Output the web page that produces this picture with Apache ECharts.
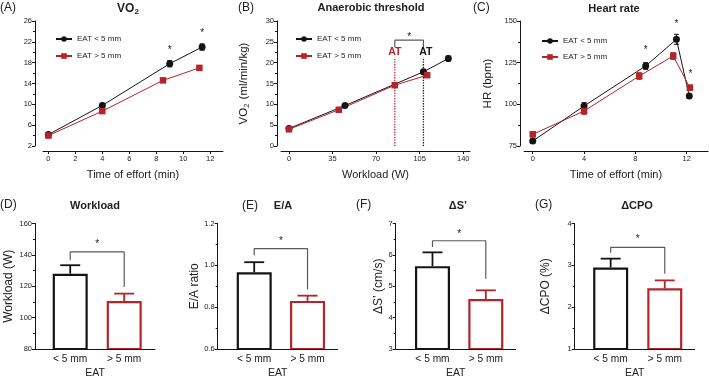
<!DOCTYPE html>
<html><head><meta charset="utf-8">
<script src="https://cdn.jsdelivr.net/npm/echarts@6/dist/echarts.min.js"></script>
<style>html,body{margin:0;padding:0;background:#fff}#c{width:709px;height:378px}</style>
</head><body><div id="c"></div>
<script>
// ================= DATA =================
var seriesNames = ['EAT < 5 mm', 'EAT > 5 mm'];
var barCats = ['< 5 mm', '> 5 mm'];

// (A) VO2 vs time of effort
var aTimeLow = [0, 4, 9, 11.4];
var aVo2Low = [4.2, 9.8, 17.8, 21.0];
var aErrLow = [0.3, 0.4, 0.6, 0.6];
var aTimeHigh = [0, 4, 8.5, 11.2];
var aVo2High = [4.0, 8.7, 14.6, 17.0];
var aErrHigh = [0.3, 0.3, 0.4, 0.4];
var aStars = [[9, 20.7], [11.4, 24.0]];
var aXTicks = [0, 2, 4, 6, 8, 10, 12];

// (B) Anaerobic threshold: VO2 vs workload
var bWorkLow = [0, 45, 108, 128];
var bVo2Low = [4.2, 9.7, 17.8, 21.0];
var bErrLow = [0.3, 0.4, 0.6, 0.6];
var bWorkHigh = [0, 40, 85, 111];
var bVo2High = [4.0, 8.7, 14.6, 17.0];
var bErrHigh = [0.3, 0.3, 0.4, 0.4];
var bATHigh = 85, bATLow = 108, bATTop = 21.3, bATLabelY = 22.6;
var bBracket = [23.7, 25.4];
var bStar = [96.5, 26.7];
var bXTicks = [0, 35, 70, 105, 140];

// (C) Heart rate vs time of effort
var cTimeLow = [0, 4, 8.8, 11.2, 12.2];
var cHrLow = [78, 99, 123, 139, 105];
var cErrLow = [1, 2, 2, 3, 1];
var cTimeHigh = [0, 4, 8.3, 10.95, 12.25];
var cHrHigh = [82, 96, 117, 129, 110];
var cErrHigh = [1.5, 2, 2, 2, 1.5];
var cStars = [[8.8, 133.6], [11.2, 149.4], [12.3, 119]];
var cXTicks = [0, 4, 8, 12];

// (D)-(G) bar panels: mean, SEM, bracket [left end, top, right end], star height
var dMean = [128, 110.6], dSem = [5.4, 4.7], dBracket = [136.6, 141.9, 119.6], dStarY = 148.3;
var eMean = [0.967, 0.83], eSem = [0.048, 0.025], eBracket = [1.048, 1.08, 0.884], eStarY = 1.123;
var fMean = [5.64, 4.59], fSem = [0.44, 0.28], fBracket = [6.25, 6.45, 5.24], fStarY = 6.73;
var gMean = [2.95, 2.45], gSem = [0.21, 0.19], gBracket = [3.3, 3.43, 2.8], gStarY = 3.66;

// ================= STYLE =================
var FONT = 'Liberation Sans, Arial, Helvetica, sans-serif';
var BLACK = '#141414', RED = '#b3242b', GREY = '#5a5a5a', TXT = '#222';
var barColors = [BLACK, RED];

function zip(xs, ys) { return xs.map(function (x, i) { return [x, ys[i]]; }); }
function zip3(xs, ys, es) { return xs.map(function (x, i) { return [x, ys[i], es[i]]; }); }

function lineErr(color) {
  return function (params, api) {
    var x = api.value(0), m = api.value(1), e = api.value(2);
    var t = api.coord([x, m + e]), b = api.coord([x, m - e]), w = 2.5;
    var st = { stroke: color, lineWidth: 1 };
    return { type: 'group', children: [
      { type: 'line', shape: { x1: t[0], y1: t[1], x2: b[0], y2: b[1] }, style: st },
      { type: 'line', shape: { x1: t[0] - w, y1: t[1], x2: t[0] + w, y2: t[1] }, style: st },
      { type: 'line', shape: { x1: b[0] - w, y1: b[1], x2: b[0] + w, y2: b[1] }, style: st }
    ] };
  };
}
function barErr(params, api) {
  var x = api.value(0), m = api.value(1), e = api.value(2);
  var p0 = api.coord([x, m]), p1 = api.coord([x, m + e]), w = 10;
  var st = { stroke: barColors[params.dataIndex], lineWidth: 1.8 };
  return { type: 'group', children: [
    { type: 'line', shape: { x1: p0[0], y1: p0[1], x2: p1[0], y2: p1[1] }, style: st },
    { type: 'line', shape: { x1: p1[0] - w, y1: p1[1], x2: p1[0] + w, y2: p1[1] }, style: st }
  ] };
}
function textMark(txt, color, font, dy) {
  return function (params, api) {
    var p = api.coord([api.value(0), api.value(1)]);
    return { type: 'text', x: p[0], y: p[1] + (dy || 0),
      style: { text: txt, textAlign: 'center', textVerticalAlign: 'middle', verticalAlign: 'middle', font: font, fill: color } };
  };
}
var starFont = 'normal 10px ' + FONT;

function lineSeries(idx, name, data, color, symbol) {
  return { type: 'line', name: name, xAxisIndex: idx, yAxisIndex: idx, data: data,
    symbol: symbol, symbolSize: symbol === 'circle' ? 7 : 6.5, lineStyle: { color: color, width: 1 },
    itemStyle: { color: color }, z: 3, animation: false };
}
function errSeries(idx, data, color) {
  return { type: 'custom', xAxisIndex: idx, yAxisIndex: idx, data: data, renderItem: lineErr(color), z: 2, silent: true, animation: false };
}
function textSeries(idx, data, txt, color, font, dy) {
  return { type: 'custom', xAxisIndex: idx, yAxisIndex: idx, data: data, renderItem: textMark(txt, color, font, dy), z: 4, silent: true, animation: false };
}

function topX(idx, min, max, ticks, name) {
  return { type: 'value', gridIndex: idx, min: min, max: max, offset: 5, name: name, nameLocation: 'middle', nameGap: 18,
    nameTextStyle: { fontFamily: FONT, fontSize: 11, color: TXT },
    axisLine: { onZero: false, lineStyle: { color: BLACK, width: 1 } },
    axisTick: { length: 3, customValues: ticks, lineStyle: { color: BLACK } },
    axisLabel: { customValues: ticks, margin: 4, fontFamily: FONT, fontSize: 7.5, color: TXT },
    splitLine: { show: false } };
}
function yAx(idx, min, max, interval, offset, name, gap, fs, fmt) {
  return { type: 'value', gridIndex: idx, min: min, max: max, interval: interval, offset: offset,
    name: name, nameLocation: 'middle', nameGap: gap,
    nameTextStyle: { fontFamily: FONT, fontSize: fs, color: TXT,
      rich: { a: { fontFamily: FONT, fontSize: 11.5, color: TXT }, s: { fontFamily: FONT, fontSize: 7.5, color: TXT, padding: [6, 1, 0, 0] } } },
    axisLine: { show: true, onZero: false, lineStyle: { color: BLACK, width: 1 } },
    axisTick: { show: true, length: 3, lineStyle: { color: BLACK } },
    minorTick: { show: true, splitNumber: 2, length: 2, lineStyle: { color: BLACK } },
    axisLabel: { margin: 3, fontFamily: FONT, fontSize: 7.5, color: TXT, formatter: fmt },
    splitLine: { show: false }, minorSplitLine: { show: false } };
}
function botX(idx, min, max) {
  return { type: 'value', gridIndex: idx, min: min, max: max, z: 5, name: 'EAT', nameLocation: 'middle', nameGap: 19,
    nameTextStyle: { fontFamily: FONT, fontSize: 10.5, color: TXT },
    axisLine: { onZero: false, lineStyle: { color: BLACK, width: 1 } },
    axisTick: { show: false },
    axisLabel: { customValues: [0, 1], margin: 5.5, fontFamily: FONT, fontSize: 10.2, color: TXT,
      formatter: function (v) { return barCats[Math.round(v)]; } },
    splitLine: { show: false } };
}
function barPanel(idx, mean, sem, bracket, starY) {
  return [
    { type: 'bar', xAxisIndex: idx, yAxisIndex: idx, barWidth: 35, z: 2, animation: false,
      data: mean.map(function (v, i) { return { value: [i, v], itemStyle: { color: '#fff', borderColor: barColors[i], borderWidth: 2.2 } }; }) },
    { type: 'custom', xAxisIndex: idx, yAxisIndex: idx, z: 3, animation: false, silent: true,
      data: mean.map(function (v, i) { return [i, v, sem[i]]; }), renderItem: barErr },
    { type: 'line', xAxisIndex: idx, yAxisIndex: idx, symbol: 'none', z: 3, animation: false, silent: true,
      lineStyle: { color: GREY, width: 1.2 },
      data: [[0, bracket[0]], [0, bracket[1]], [1, bracket[1]], [1, bracket[2]]] },
    textSeries(idx, [[0.5, starY]], '*', TXT, starFont, 2)
  ];
}

function label(x, y, text, font, align) {
  return { type: 'text', x: x, y: y, style: { text: text, font: font, fill: TXT, textAlign: align || 'left',
    textVerticalAlign: 'middle', verticalAlign: 'middle' } };
}
var letterFont = 'normal 12px ' + FONT;
var topTitleFont = 'bold 11px ' + FONT;
var botTitleFont = 'bold 11px ' + FONT;

function grid(left, top, width, height) {
  return { left: left, top: top, width: width, height: height, outerBoundsMode: 'none', containLabel: false };
}

var topGridTop = 21, topGridH = 125, botGridTop = 223.5, botGridH = 125.5;
var option = {
  backgroundColor: '#fff',
  animation: false,
  grid: [
    grid(43, topGridTop, 180, topGridH),
    grid(281, topGridTop, 189, topGridH),
    grid(524, topGridTop, 184, topGridH),
    grid(35, botGridTop, 120, botGridH),
    grid(217.7, botGridTop, 120, botGridH),
    grid(395.7, botGridTop, 120, botGridH),
    grid(574.7, botGridTop, 120, botGridH)
  ],
  xAxis: [
    topX(0, -0.4, 12.95, aXTicks, 'Time of effort (min)'),
    topX(1, -6.4, 145.4, bXTicks, 'Workload (W)'),
    topX(2, -0.68, 13.66, cXTicks, 'Time of effort (min)'),
    botX(3, -0.652, 1.57),
    botX(4, -0.685, 1.566),
    botX(5, -0.69, 1.561),
    botX(6, -0.665, 1.553)
  ],
  yAxis: [
    yAx(0, 2, 26, 4, 8, '', 0, 11),
    yAx(1, 0, 30, 5, 4, '{a|VO}{s|2}{a| (ml/min/kg)}', 26, 11.5),
    yAx(2, 75, 150, 25, 4, 'HR (bpm)', 26, 11.5),
    yAx(3, 80, 160, 20, 0, 'Workload (W)', 20, 12),
    yAx(4, 0.6, 1.2, 0.2, 0, 'E/A ratio', 16, 12, function (v) { return v.toFixed(1); }),
    yAx(5, 3, 7, 1, 0, '\u0394S\u2019 (cm/s)', 7, 12),
    yAx(6, 1, 4, 1, 0, '\u0394CPO (%)', 23, 12)
  ],
  legend: [
    { data: seriesNames, orient: 'vertical', left: 50, top: 29, itemWidth: 16, itemHeight: 7, itemGap: 7, selectedMode: false,
      textStyle: { fontFamily: FONT, fontSize: 8, color: TXT, lineHeight: 10 } },
    { data: seriesNames, orient: 'vertical', left: 290, top: 29, itemWidth: 16, itemHeight: 7, itemGap: 7, selectedMode: false,
      textStyle: { fontFamily: FONT, fontSize: 8, color: TXT, lineHeight: 10 } },
    { data: seriesNames, orient: 'vertical', left: 536, top: 31, itemWidth: 16, itemHeight: 7, itemGap: 6, selectedMode: false,
      textStyle: { fontFamily: FONT, fontSize: 8, color: TXT, lineHeight: 10 } }
  ],
  graphic: [
    label(0, 8, '(A)', letterFont),
    { type: 'text', x: 128, y: 9, style: { text: '{a|VO}{s|2}', textAlign: 'center', textVerticalAlign: 'middle', verticalAlign: 'middle',
      rich: { a: { font: 'bold 12px ' + FONT, fill: TXT }, s: { font: 'bold 8px ' + FONT, fill: TXT, padding: [6, 0, 0, 0] } } } },
    label(238, 8, '(B)', letterFont),
    label(371, 8, 'Anaerobic threshold', topTitleFont, 'center'),
    label(473, 8, '(C)', letterFont),
    label(614, 9, 'Heart rate', topTitleFont, 'center'),
    label(0, 205, '(D)', letterFont),
    label(95, 206, 'Workload', botTitleFont, 'center'),
    label(250, 206, '(E)', letterFont, 'center'),
    label(283, 206, 'E/A', botTitleFont, 'center'),
    label(356, 205, '(F)', letterFont),
    label(458, 206, '\u0394S\u2019', botTitleFont, 'center'),
    label(535, 205, '(G)', letterFont),
    label(637, 206, '\u0394CPO', botTitleFont, 'center')
  ],
  series: [].concat(
    // (A)
    [errSeries(0, zip3(aTimeLow, aVo2Low, aErrLow), BLACK),
     errSeries(0, zip3(aTimeHigh, aVo2High, aErrHigh), RED),
     lineSeries(0, seriesNames[0], zip(aTimeLow, aVo2Low), BLACK, 'circle'),
     lineSeries(0, seriesNames[1], zip(aTimeHigh, aVo2High), RED, 'rect'),
     textSeries(0, aStars, '*', TXT, starFont, 2)],
    // (B)
    [{ type: 'line', xAxisIndex: 1, yAxisIndex: 1, symbol: 'none', silent: true, z: 1, animation: false,
       lineStyle: { color: RED, width: 1.3, type: 'dotted' }, data: [[bATHigh, 0], [bATHigh, bATTop]] },
     { type: 'line', xAxisIndex: 1, yAxisIndex: 1, symbol: 'none', silent: true, z: 1, animation: false,
       lineStyle: { color: BLACK, width: 1.3, type: 'dotted' }, data: [[bATLow, 0], [bATLow, bATTop]] },
     { type: 'line', xAxisIndex: 1, yAxisIndex: 1, symbol: 'none', silent: true, z: 1, animation: false,
       lineStyle: { color: GREY, width: 1.2 },
       data: [[bATHigh, bBracket[0]], [bATHigh, bBracket[1]], [bATLow, bBracket[1]], [bATLow, bBracket[0]]] },
     errSeries(1, zip3(bWorkLow, bVo2Low, bErrLow), BLACK),
     errSeries(1, zip3(bWorkHigh, bVo2High, bErrHigh), RED),
     lineSeries(1, seriesNames[0], zip(bWorkLow, bVo2Low), BLACK, 'circle'),
     lineSeries(1, seriesNames[1], zip(bWorkHigh, bVo2High), RED, 'rect'),
     textSeries(1, [[bATHigh, bATLabelY]], 'AT', RED, 'bold 10.5px ' + FONT, 0),
     textSeries(1, [[bATLow + 2, bATLabelY]], 'AT', BLACK, 'bold 10.5px ' + FONT, 0),
     textSeries(1, [bStar], '*', TXT, starFont, 2)],
    // (C)
    [errSeries(2, zip3(cTimeLow, cHrLow, cErrLow), BLACK),
     errSeries(2, zip3(cTimeHigh, cHrHigh, cErrHigh), RED),
     lineSeries(2, seriesNames[0], zip(cTimeLow, cHrLow), BLACK, 'circle'),
     lineSeries(2, seriesNames[1], zip(cTimeHigh, cHrHigh), RED, 'rect'),
     textSeries(2, cStars, '*', TXT, starFont, 2)],
    barPanel(3, dMean, dSem, dBracket, dStarY),
    barPanel(4, eMean, eSem, eBracket, eStarY),
    barPanel(5, fMean, fSem, fBracket, fStarY),
    barPanel(6, gMean, gSem, gBracket, gStarY)
  )
};
var chart = echarts.init(document.getElementById('c'), null, { renderer: 'canvas' });
chart.setOption(option);
</script>
</body></html>
